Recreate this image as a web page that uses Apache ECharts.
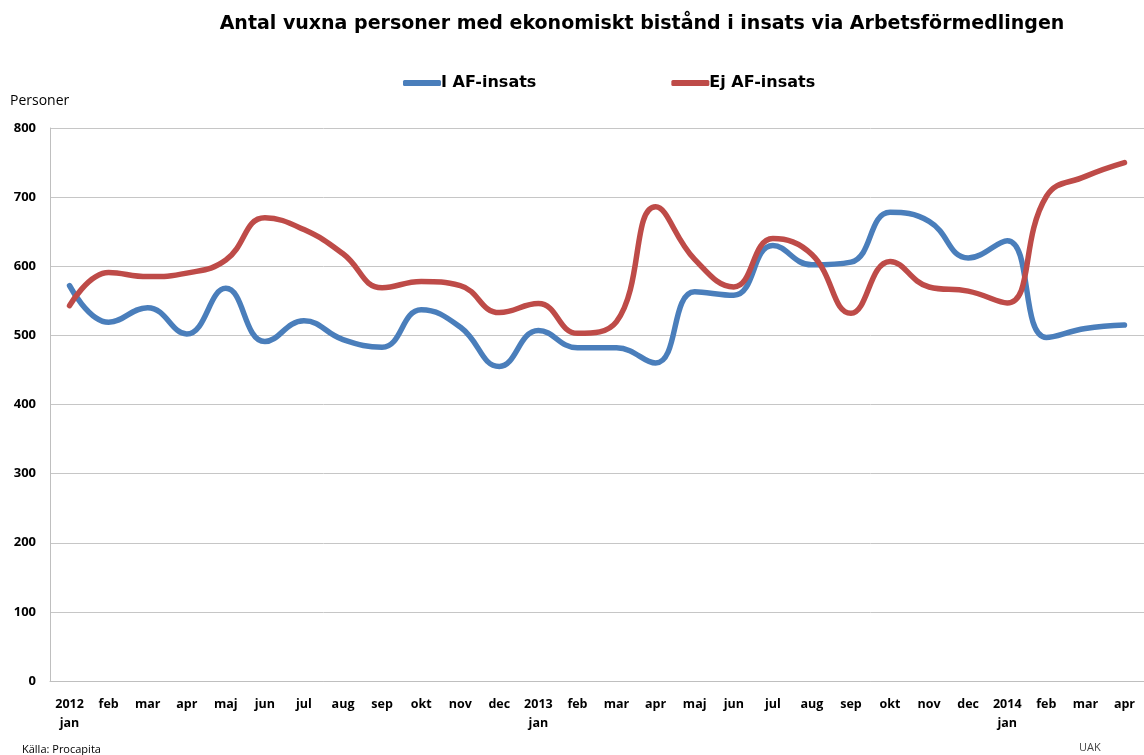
<!DOCTYPE html>
<html>
<head>
<meta charset="utf-8">
<script src="https://cdn.jsdelivr.net/npm/echarts@6/dist/echarts.min.js"></script>
<style>html,body{margin:0;padding:0;background:#fff;}#c{width:1144px;height:755px;}</style>
</head>
<body>
<div id="c"></div>
<script>
var months = ['2012\njan','feb','mar','apr','maj','jun','jul','aug','sep','okt','nov','dec',
  '2013\njan','feb','mar','apr','maj','jun','jul','aug','sep','okt','nov','dec',
  '2014\njan','feb','mar','apr'];
var iAfInsats = [572,519,540,502,568,491,521,494,483,537,512,455,507,482,482,460,563,558,630,602,606,678,665,612,637,497,510,515];
var ejAfInsats = [543,591,585,590,609,670,653,618,569,578,572,533,546,503,520,686,610,570,640,617,532,607,570,564,547,701,730,750];
var yTicks = [0,100,200,300,400,500,600,700,800];

var chart = echarts.init(document.getElementById('c'));
chart.setOption({
  animation: false,
  backgroundColor: '#fff',
  title: {
    text: 'Antal vuxna personer med ekonomiskt bistånd i insats via Arbetsförmedlingen',
    left: 637, top: 10, textAlign: 'center',
    textStyle: {fontFamily: 'DejaVu Sans', fontWeight: 'bold', fontSize: 19, color: '#000'}
  },
  legend: {
    top: 70, left: 398, itemGap: 135,
    icon: 'roundRect', itemWidth: 38, itemHeight: 6,
    textStyle: {fontFamily: 'DejaVu Sans', fontWeight: 'bold', fontSize: 16, color: '#000', padding: [0,0,0,-5]},
    data: ['I AF-insats','Ej AF-insats']
  },
  grid: {left: 50, right: -12, top: 128, bottom: 74, containLabel: false},
  xAxis: {
    type: 'category', data: months, boundaryGap: true,
    axisLine: {show: true, lineStyle: {color: '#bfbfbf', width: 1}},
    axisTick: {show: false},
    axisLabel: {interval: 0, margin: 14, lineHeight: 19, fontFamily: 'Open Sans', fontWeight: 'bold', fontSize: 12.5, color: '#000', verticalAlign: 'top', align: 'center'}
  },
  yAxis: {
    type: 'value', min: 0, max: 800, interval: 100,
    name: 'Personer', nameLocation: 'end', nameGap: 20,
    nameTextStyle: {fontFamily: 'Open Sans', fontSize: 14, color: '#000', align: 'left', padding: [0,0,0,-40]},
    axisLine: {show: true, lineStyle: {color: '#bfbfbf', width: 1}},
    axisTick: {show: false},
    splitLine: {show: true, lineStyle: {color: '#c6c6c6', width: 1}},
    axisLabel: {margin: 14, fontFamily: 'Open Sans', fontWeight: 'bold', fontSize: 13, color: '#000',
      formatter: function (v) { return yTicks.indexOf(v) >= 0 ? String(v) : ''; }}
  },
  series: [
    {name: 'I AF-insats', type: 'line', data: iAfInsats, smooth: 0.45, showSymbol: false, symbol: 'none',
      lineStyle: {color: '#4a7ebb', width: 5.5, cap: 'round', join: 'round'}, itemStyle: {color: '#4a7ebb'}},
    {name: 'Ej AF-insats', type: 'line', data: ejAfInsats, smooth: 0.45, showSymbol: false, symbol: 'none',
      lineStyle: {color: '#be4b48', width: 5.5, cap: 'round', join: 'round'}, itemStyle: {color: '#be4b48'}}
  ],
  graphic: [
    {type: 'text', left: 22, top: 744, style: {text: 'Källa: Procapita', font: '11px "Open Sans"', fill: '#000'}},
    {type: 'text', left: 1079, top: 742, style: {text: 'UAK', font: '11px "Open Sans"', fill: '#444'}}
  ]
});
</script>
</body>
</html>
